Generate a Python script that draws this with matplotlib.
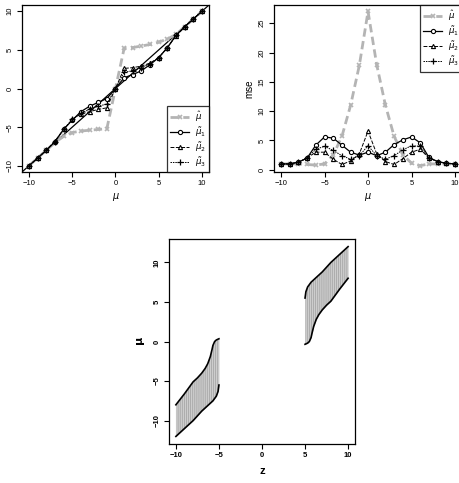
import matplotlib

matplotlib.use("Agg")
import matplotlib.pyplot as plt

plt.rcParams["font.family"] = ["Liberation Sans", "DejaVu Sans"]
plt.rcParams["hatch.linewidth"] = 0.5

# true mean values on the x axis of the two top panels
mu = list(range(-10, 11))

# estimates (top left)
est_hat = [-10, -9, -8, -7, -6.2, -5.7, -5.5, -5.4, -5.3, -5.2, 0,
           5.2, 5.3, 5.5, 5.7, 6.0, 6.4, 7, 8, 9, 10]
est_t1 = [-10, -9, -8, -6.9, -5.3, -4.1, -3.0, -2.3, -1.8, -1.3, 0,
          1.4, 1.8, 2.3, 3.1, 4.0, 5.3, 6.9, 8, 9, 10]
est_t2 = [-10, -9, -8, -6.8, -5.3, -4.0, -3.3, -3.0, -2.7, -2.5, 0,
          2.6, 2.7, 2.9, 3.3, 4.0, 5.3, 6.8, 8, 9, 10]
est_t3 = [-10, -9, -8, -6.9, -5.3, -4.0, -3.2, -2.7, -2.3, -2.0, 0,
          2.1, 2.3, 2.7, 3.2, 4.0, 5.3, 6.9, 8, 9, 10]

# mean squared errors (top right)
mse_hat = [1.0, 1.0, 1.0, 0.9, 0.8, 1.0, 2.5, 5.7, 11.0, 17.8, 27.0,
           17.9, 11.0, 5.7, 2.6, 1.1, 0.7, 1.0, 1.0, 1.0, 1.0]
mse_t1 = [1.0, 1.0, 1.3, 2.0, 4.2, 5.6, 5.4, 4.2, 3.0, 2.5, 3.0,
          2.4, 3.0, 4.3, 5.1, 5.6, 4.6, 2.1, 1.4, 1.1, 1.0]
mse_t2 = [1.0, 1.0, 1.3, 2.0, 3.0, 3.0, 1.8, 0.9, 1.5, 2.7, 6.6,
          2.7, 1.4, 0.9, 1.9, 3.0, 3.5, 2.0, 1.4, 1.1, 1.0]
mse_t3 = [1.0, 1.0, 1.3, 2.0, 3.5, 4.0, 3.3, 2.4, 1.8, 2.4, 4.1,
          2.4, 1.8, 2.4, 3.4, 4.1, 4.0, 2.0, 1.4, 1.1, 1.0]

# confidence band for mu given z (bottom)
z_left = [-10, -9, -8, -7.5, -7, -6.6, -6.3, -6, -5.8, -5.7, -5.5, -5.3, -5.1, -5]
lo_left = [-12, -11, -10, -9.4, -8.8, -8.4, -8.1, -7.8, -7.6, -7.5, -7.2, -6.9, -6.3, -5.5]
hi_left = [-8, -6.6, -5.1, -4.6, -4.0, -3.4, -2.8, -1.9, -1.0, -0.5, 0.0, 0.2, 0.3, 0.35]

z_right = [5, 5.1, 5.3, 5.5, 5.7, 5.8, 6, 6.3, 6.6, 7, 7.5, 8, 9, 10]
lo_right = [-0.35, -0.3, -0.2, 0.0, 0.5, 1.0, 1.9, 2.8, 3.4, 4.0, 4.6, 5.1, 6.6, 8]
hi_right = [5.5, 6.3, 6.9, 7.2, 7.5, 7.6, 7.8, 8.1, 8.4, 8.8, 9.4, 10.0, 11.0, 12]

GRAY = "#b4b4b4"
TICK_FS = 5.5


def style_axes(ax):
    for sp in ax.spines.values():
        sp.set_linewidth(0.9)
    ax.tick_params(direction="out", length=3.5, width=0.8, labelsize=TICK_FS, pad=2.5)
    for lab in ax.get_yticklabels():
        lab.set_rotation(90)
        lab.set_va("center")


def draw_series(ax, y_hat, y1, y2, y3):
    h0, = ax.plot(mu, y_hat, color=GRAY, lw=2.0, ls=(0, (3, 1.6)), marker="x",
                  ms=3.2, mew=1.2, label=r"$\hat{\mu}$", zorder=2)
    h1, = ax.plot(mu, y1, color="black", lw=0.9, marker="o", ms=3.0, mfc="white",
                  mew=0.8, label=r"$\tilde{\mu}_1$", zorder=3)
    h2, = ax.plot(mu, y2, color="black", lw=0.7, ls=(0, (4, 1.5)), marker="^", ms=3.0,
                  mfc="white", mew=0.8, label=r"$\tilde{\mu}_2$", zorder=3)
    h3, = ax.plot(mu, y3, color="black", lw=0.7, ls=(0, (1.5, 1)), marker="+", ms=3.8,
                  mew=0.9, label=r"$\tilde{\mu}_3$", zorder=3)
    return [h0, h1, h2, h3]


def add_legend(ax, handles, loc):
    leg = ax.legend(handles=handles, loc=loc, fontsize=6.2, frameon=True,
                    fancybox=False, edgecolor="black", borderaxespad=0,
                    handlelength=2.2, handletextpad=0.6, labelspacing=0.15,
                    borderpad=0.4)
    leg.get_frame().set_linewidth(0.9)


fig = plt.figure(figsize=(4.6, 4.83), dpi=100)

# top left: estimates
ax1 = fig.add_axes([0.0478, 0.6439, 0.4065, 0.3457])
ax1.plot([-11, 11], [-11, 11], color="black", lw=0.9, zorder=1)
handles = draw_series(ax1, est_hat, est_t1, est_t2, est_t3)
ax1.set_xlim(-10.8, 10.8)
ax1.set_ylim(-10.8, 10.8)
ax1.set_xticks([-10, -5, 0, 5, 10])
ax1.set_yticks([-10, -5, 0, 5, 10])
ax1.set_xlabel(r"$\mu$", fontsize=7, labelpad=3)
style_axes(ax1)
add_legend(ax1, handles, "lower right")

# top right: mse
ax2 = fig.add_axes([0.5957, 0.6439, 0.4087, 0.3457])
handles = draw_series(ax2, mse_hat, mse_t1, mse_t2, mse_t3)
ax2.set_xlim(-10.8, 10.8)
ax2.set_ylim(-0.38, 28.1)
ax2.set_xticks([-10, -5, 0, 5, 10])
ax2.set_yticks([0, 5, 10, 15, 20, 25])
ax2.set_xlabel(r"$\mu$", fontsize=7, labelpad=3)
ax2.set_ylabel("mse", fontsize=7, labelpad=3)
style_axes(ax2)
add_legend(ax2, handles, "upper right")

# bottom: confidence band
ax3 = fig.add_axes([0.3674, 0.0807, 0.4043, 0.4244])
for zs, lo, hi in [(z_left, lo_left, hi_left), (z_right, lo_right, hi_right)]:
    ax3.fill_between(zs, lo, hi, color="#cdcdcd", lw=0)
    ax3.fill_between(zs, lo, hi, facecolor="none", edgecolor="#a0a0a0",
                     hatch="||||||||", lw=0)
    ax3.plot(zs, lo, color="black", lw=1.2)
    ax3.plot(zs, hi, color="black", lw=1.2)
ax3.set_xlim(-10.8, 10.8)
ax3.set_ylim(-12.96, 12.96)
ax3.set_xticks([-10, -5, 0, 5, 10])
ax3.set_yticks([-10, -5, 0, 5, 10])
ax3.set_xlabel("z", fontsize=8, fontweight="bold", labelpad=5)
ax3.set_ylabel(r"$\mathbf{\mu}$", fontsize=8, labelpad=5)
style_axes(ax3)
for lab in ax3.get_xticklabels() + ax3.get_yticklabels():
    lab.set_fontweight("bold")

fig.savefig("out.png", dpi=100)
plt.close(fig)
